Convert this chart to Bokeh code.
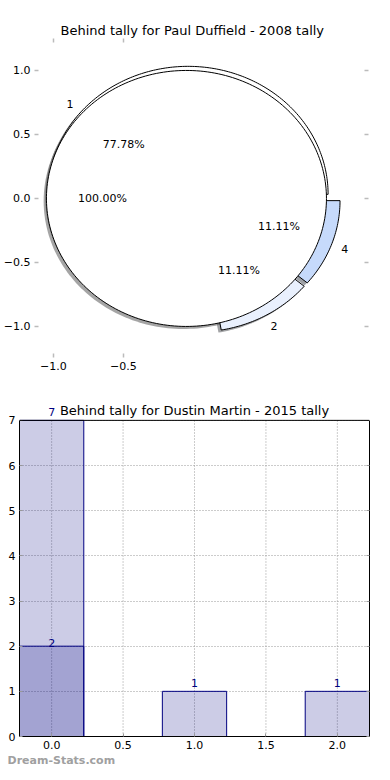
import numpy as np
from bokeh.plotting import figure
from bokeh.models import (ColumnDataSource, LinearAxis, FixedTicker, CustomJSTickFormatter,
                          LabelSet, Label, Range1d, Span, Title, Spacer)
from bokeh.layouts import column, row
from bokeh.embed import file_html
from bokeh.resources import INLINE
from bokeh.core.properties import value

# ---------------- data ----------------
pie_title = "Behind tally for Paul Duffield - 2008 tally"
pie_inner_labels = ["1", "2", "4"]
pie_inner_values = [7, 1, 1]
pie_inner_colors = ["#ffffff", "#e9f0fd", "#c6dafb"]
pie_outer_labels = ["1"]
pie_outer_values = [1]
pie_outer_colors = ["#ffffff"]
pie_explode = 0.05
pie_xticks = [-1.0, -0.5]
pie_yticks = [-1.0, -0.5, 0.0, 0.5, 1.0]

bar_title = "Behind tally for Dustin Martin - 2015 tally"
bar_x = [0, 1, 2]
bar_a = [7, 1, 1]
bar_b_x = [0]
bar_b = [2]
bar_xticks = [0.0, 0.5, 1.0, 1.5, 2.0]
bar_yticks = [0, 1, 2, 3, 4, 5, 6, 7]
watermark = "Dream-Stats.com"

FONT = "DejaVu Sans"
TICK_SIZE = "11px"
TITLE_SIZE = "13px"


def shade(hex_color, f=0.3):
    h = hex_color.lstrip("#")
    r, g, b = (int(h[i:i + 2], 16) for i in (0, 2, 4))
    return "#%02x%02x%02x" % (int(r * f), int(g * f), int(b * f))


def pie_geometry(values, explode, start=0.0):
    total = float(sum(values))
    wx, wy, lab, pct = [], [], [], []
    t1 = start
    for v in values:
        frac = v / total
        t2 = t1 + 360.0 * frac
        tm = np.deg2rad((t1 + t2) / 2.0)
        cx, cy = explode * np.cos(tm), explode * np.sin(tm)
        if abs(frac - 1.0) < 1e-9:
            t = np.linspace(0, 2 * np.pi, 240)
            xs, ys = list(cx + np.cos(t)), list(cy + np.sin(t))
        else:
            t = np.linspace(np.deg2rad(t1), np.deg2rad(t2), max(8, int(360 * frac)))
            xs = [cx] + list(cx + np.cos(t))
            ys = [cy] + list(cy + np.sin(t))
        wx.append(xs)
        wy.append(ys)
        lab.append((cx + 1.1 * np.cos(tm), cy + 1.1 * np.sin(tm)))
        pct.append((cx + 0.6 * np.cos(tm), cy + 0.6 * np.sin(tm), "%.2f%%" % (100 * frac)))
        t1 = t2
    return wx, wy, lab, pct


num_fmt = CustomJSTickFormatter(code="return (tick < 0 ? '\u2212' : '') + Math.abs(tick).toFixed(1);")
int_fmt = CustomJSTickFormatter(code="return tick.toFixed(0);")
empty_fmt = CustomJSTickFormatter(code="return '';")

# ---------------- top: pie ----------------
p1 = figure(frame_width=330, frame_height=315,
            x_range=Range1d(-1.121, 1.236), y_range=Range1d(-1.227, 1.234),
            output_backend="svg", toolbar_location=None,
            min_border_left=0, min_border_right=4, min_border_top=0, min_border_bottom=0)
p1.title.text = pie_title
p1.title.align = "left"
p1.title.offset = 24
p1.title.standoff = 2
p1.title.text_font = FONT
p1.title.text_font_size = TITLE_SIZE
p1.title.text_font_style = "normal"
p1.title.text_color = "black"
p1.outline_line_color = None
p1.grid.visible = False

p1.xaxis[0].ticker = FixedTicker(ticks=pie_xticks)
p1.xaxis[0].formatter = num_fmt
p1.yaxis[0].ticker = FixedTicker(ticks=pie_yticks)
p1.yaxis[0].formatter = num_fmt
p1_right = LinearAxis(ticker=FixedTicker(ticks=pie_yticks), formatter=empty_fmt)
p1_top = LinearAxis(ticker=FixedTicker(ticks=pie_xticks), formatter=empty_fmt)
p1.add_layout(p1_right, "right")
p1.add_layout(p1_top, "above")
for ax in p1.axis:
    ax.axis_line_color = None
    ax.major_tick_line_color = "#bbbbbb"
    ax.major_tick_line_width = 1.5
    ax.major_tick_in = 2
    ax.major_tick_out = 2
    ax.minor_tick_line_color = None
    ax.major_label_standoff = 4
    ax.major_label_text_font = FONT
    ax.major_label_text_font_size = TICK_SIZE
    ax.major_label_text_color = "black"
for ax in (p1_right, p1_top):
    ax.major_label_standoff = 0
    ax.major_label_text_font_size = "1px"

ax_, ay_, alab, apct = pie_geometry(pie_inner_values, pie_explode)
bx_, by_, blab, bpct = pie_geometry(pie_outer_values, pie_explode)

# shadows (beneath all wedges)
sh = ColumnDataSource(dict(
    xs=[[x - 0.02 for x in xs] for xs in ax_ + bx_],
    ys=[[y - 0.02 for y in ys] for ys in ay_ + by_],
    c=[shade(c) for c in pie_inner_colors + pie_outer_colors]))
p1.patches("xs", "ys", source=sh, fill_color="c", fill_alpha=0.5, line_color=None)

wa = ColumnDataSource(dict(xs=ax_, ys=ay_, c=pie_inner_colors))
p1.patches("xs", "ys", source=wa, fill_color="c", line_color="black", line_width=1)
wb = ColumnDataSource(dict(xs=bx_, ys=by_, c=pie_outer_colors))
p1.patches("xs", "ys", source=wb, fill_color="c", line_color="black", line_width=1)

tx = [l[0] for l in alab + blab] + [q[0] for q in apct + bpct]
ty = [l[1] for l in alab + blab] + [q[1] for q in apct + bpct]
tt = pie_inner_labels + pie_outer_labels + [q[2] for q in apct + bpct]
p1.text(x=tx, y=ty, text=tt, text_align="center", text_baseline="middle",
        text_font=value(FONT), text_font_size=TICK_SIZE, text_color="black")

# ---------------- bottom: bars ----------------
ymax = max(bar_yticks)
head = 0.44  # room above the top of the axes for the title line (data units)
x_lo, x_hi = -0.225, 2.225
p2 = figure(frame_width=350, frame_height=336,
            x_range=Range1d(x_lo, x_hi), y_range=Range1d(0, ymax + head),
            output_backend="svg", toolbar_location=None, title=None,
            min_border_left=0, min_border_right=2, min_border_top=0, min_border_bottom=0)
p2.outline_line_color = None

p2.xaxis[0].ticker = FixedTicker(ticks=bar_xticks)
p2.xaxis[0].formatter = num_fmt
p2.yaxis[0].ticker = FixedTicker(ticks=bar_yticks)
p2.yaxis[0].formatter = int_fmt
p2.yaxis[0].bounds = (0, ymax)
p2_right = LinearAxis(ticker=FixedTicker(ticks=bar_yticks), formatter=empty_fmt, bounds=(0, ymax))
p2.add_layout(p2_right, "right")
for ax in p2.axis:
    ax.axis_line_color = "black"
    ax.major_tick_line_color = "#999999"
    ax.major_tick_in = 3
    ax.major_tick_out = 0
    ax.minor_tick_line_color = None
    ax.major_label_standoff = 4
    ax.major_label_text_font = FONT
    ax.major_label_text_font_size = TICK_SIZE
    ax.major_label_text_color = "black"
p2_right.major_label_standoff = 0
p2.add_layout(Span(location=ymax, dimension="width", line_color="black", line_width=1))

p2.xgrid.visible = False
p2.ygrid.ticker = FixedTicker(ticks=bar_yticks)
p2.ygrid.grid_line_color = "#999999"
p2.ygrid.grid_line_dash = "1 2"
p2.segment(x0=bar_xticks, y0=[0] * len(bar_xticks), x1=bar_xticks, y1=[ymax] * len(bar_xticks),
           line_color="#999999", line_dash="1 2", line_width=1)

src_a = ColumnDataSource(dict(x=bar_x, top=bar_a, t=[str(v) for v in bar_a]))
src_b = ColumnDataSource(dict(x=bar_b_x, top=bar_b, t=[str(v) for v in bar_b]))
p2.vbar(x="x", top="top", width=0.45, bottom=0, source=src_a,
        fill_color="navy", fill_alpha=0.2, line_color="navy", line_width=1)
p2.vbar(x="x", top="top", width=0.45, bottom=0, source=src_b,
        fill_color="navy", fill_alpha=0.2, line_color="navy", line_width=1)

p2.add_layout(LabelSet(x="x", y="top", text="t", source=src_a, text_align="center",
                       text_baseline="bottom", y_offset=4, text_font=value(FONT),
                       text_font_size=TICK_SIZE, text_color="navy"))
p2.add_layout(LabelSet(x="x", y="top", text="t", source=src_b, text_align="center",
                       text_baseline="bottom", y_offset=-1, text_font=value(FONT),
                       text_font_size=TICK_SIZE, text_color="navy"))
p2.add_layout(Label(x=(x_lo + x_hi) / 2, y=ymax, text=bar_title, text_align="center",
                    text_baseline="bottom", y_offset=2, text_font=FONT,
                    text_font_size=TITLE_SIZE, text_color="black"))
p2.add_layout(Title(text=watermark, align="left", offset=-12, standoff=0, text_font=FONT,
                    text_font_size="11px", text_font_style="bold", text_color="#a0a0a0"),
              "below")

layout = column(Spacer(height=19, width=10), row(p1), Spacer(height=28, width=10),
                row(Spacer(width=5, height=10), p2), spacing=0)
open("out.html", "w").write(file_html(layout, INLINE))
